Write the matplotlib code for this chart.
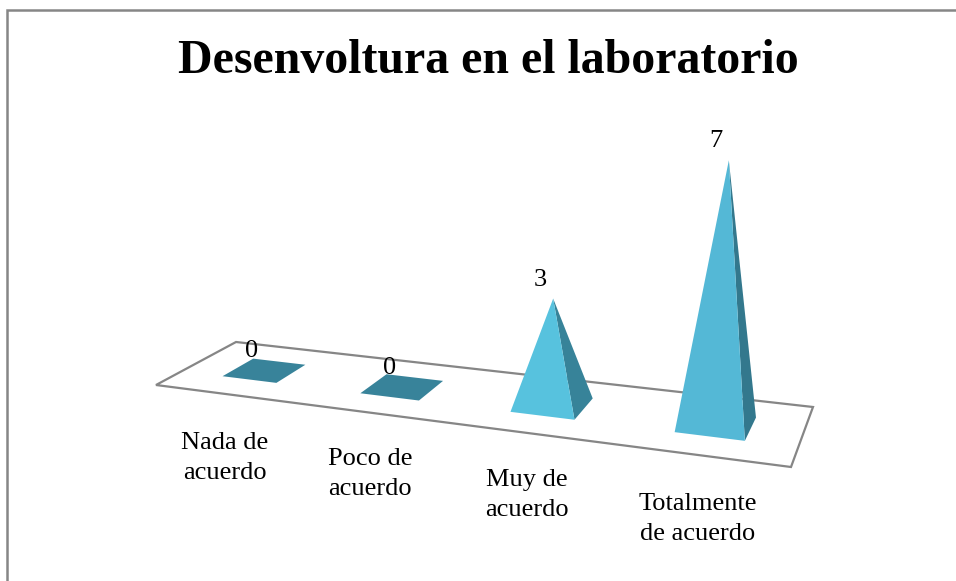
import numpy as np
import matplotlib
matplotlib.use('Agg')
import matplotlib.pyplot as plt

categories = ['Nada de\nacuerdo', 'Poco de\nacuerdo', 'Muy de\nacuerdo', 'Totalmente\nde acuerdo']
values = [0, 0, 3, 7]
title = 'Desenvoltura en el laboratorio'

plt.rcParams['font.family'] = ['Liberation Serif', 'DejaVu Serif']

# floor corners in pixels: front left, front right, back right, back left
floor = [(156, 385), (791, 467), (813, 407), (236, 342)]
vanish = np.array([514.0, 2450.0])
persp = np.array([0.0086, 0.0165])
du, dv = 0.05, 0.2
u_start, u_step = 0.128, 0.2495
label_pos = [(225, 458), (370, 474), (527, 495), (698, 519)]

front_cols = ['#57C2DE', '#57C2DE', '#57C2DE', '#54B8D6']
side_cols = ['#38839A', '#38839A', '#378399', '#33788D']
grey = '#868686'


def floor_matrix(q):
    # square to quad homography
    (x0, y0), (x1, y1), (x2, y2), (x3, y3) = q
    dx1, dx2, sx = x1 - x2, x3 - x2, x0 - x1 + x2 - x3
    dy1, dy2, sy = y1 - y2, y3 - y2, y0 - y1 + y2 - y3
    det = dx1 * dy2 - dx2 * dy1
    g = (sx * dy2 - dx2 * sy) / det
    h = (dx1 * sy - sx * dy1) / det
    return np.array([[x1 - x0 + g * x1, x3 - x0 + h * x3, x0],
                     [y1 - y0 + g * y1, y3 - y0 + h * y3, y0],
                     [g, h, 1]])


H = floor_matrix(floor)


def project(u, v, z=0):
    p = H @ np.array([u, v, 1])
    p = p[:2] / p[2]
    return vanish + (p - vanish) / (1 - persp * z)


fig = plt.figure(figsize=(9.56, 5.81), dpi=100)
ax = fig.add_axes([0, 0, 1, 1])
ax.set_xlim(0, 956)
ax.set_ylim(581, 0)
ax.axis('off')

# outer chart border, only left and top are in the picture
ax.plot([7.5, 7.5, 956], [581, 10, 10], color=grey, lw=1.8, solid_joinstyle='miter')

ax.fill(*zip(*floor), facecolor='white', edgecolor=grey, lw=1.6, joinstyle='miter')

for i, val in enumerate(values):
    u = u_start + u_step * i
    fl = project(u - du, 0.5 - dv)
    fr = project(u + du, 0.5 - dv)
    br = project(u + du, 0.5 + dv)
    bl = project(u - du, 0.5 + dv)
    top = project(u, 0.5, val)
    if val == 0:
        ax.fill(*zip(fl, fr, br, bl), color=side_cols[i], lw=0)
    else:
        ax.fill(*zip(top, fr, br), color=side_cols[i], lw=0)
        ax.fill(*zip(top, fl, fr), color=front_cols[i], lw=0)
    ax.text(top[0] - 13, top[1] - 19, str(val), ha='center', va='center', fontsize=19)

for name, (x, y) in zip(categories, label_pos):
    ax.text(x, y, name, ha='center', va='center', fontsize=19, linespacing=1.5)

ax.text(488, 61, title, ha='center', va='center', fontsize=34.5, fontweight='bold')

fig.savefig('out.png', dpi=100)
